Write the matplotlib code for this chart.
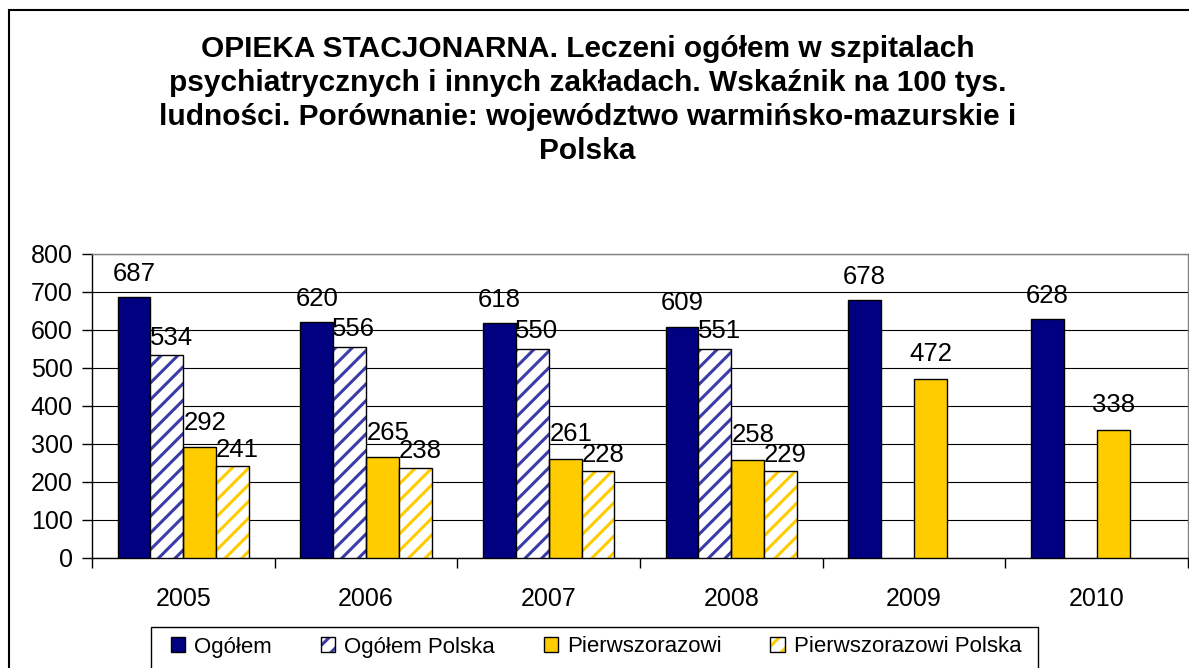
import numpy as np
import matplotlib
matplotlib.use('Agg')
import matplotlib.pyplot as plt
from matplotlib.patches import Patch, Rectangle
from matplotlib.legend_handler import HandlerTuple

plt.rcParams['font.family'] = ['Liberation Sans', 'DejaVu Sans']
plt.rcParams['hatch.linewidth'] = 2.2

years = ['2005', '2006', '2007', '2008', '2009', '2010']
ogolem = [687, 620, 618, 609, 678, 628]
ogolem_polska = [534, 556, 550, 551, np.nan, np.nan]
pierwszorazowi = [292, 265, 261, 258, 472, 338]
pierwszorazowi_polska = [241, 238, 228, 229, np.nan, np.nan]

series = [
    ('Ogółem', ogolem, '#000080', None),
    ('Ogółem Polska', ogolem_polska, '#3c3ca8', '//'),
    ('Pierwszorazowi', pierwszorazowi, '#ffcc00', None),
    ('Pierwszorazowi Polska', pierwszorazowi_polska, '#ffcc00', '//'),
]
# label offsets (points) per series, roughly as Excel placed them
label_dx = [0, 3, 4, 3.5]
label_dy = [8, 4, 9, 3]

title = ('OPIEKA STACJONARNA. Leczeni ogółem w szpitalach\n'
         'psychiatrycznych i innych zakładach. Wskaźnik na 100 tys.\n'
         'ludności. Porównanie: województwo warmińsko-mazurskie i\n'
         'Polska')

fig = plt.figure(figsize=(11.89, 6.68), dpi=100)
ax = fig.add_axes([0.0774, 0.1647, 0.9218, 0.4551])

x = np.arange(len(years))
w = 0.18
handles = []
for i, (name, vals, color, hatch) in enumerate(series):
    pos = x + (i - 1.5) * w
    vals = np.array(vals, dtype=float)
    if hatch:
        ax.bar(pos, vals, w, color='white', edgecolor=color, hatch=hatch,
               linewidth=0, zorder=3)
        ax.bar(pos, vals, w, fill=False, edgecolor='black', linewidth=1, zorder=4)
        h = (Patch(facecolor='white', edgecolor=color, hatch=hatch, linewidth=0),
             Patch(fill=False, edgecolor='black', linewidth=1))
    else:
        ax.bar(pos, vals, w, color=color, edgecolor='black', linewidth=1, zorder=3)
        h = Patch(facecolor=color, edgecolor='black', linewidth=1)
    handles.append(h)
    for p, v in zip(pos, vals):
        if not np.isnan(v):
            dx = label_dx[i] if not np.isnan(ogolem_polska[int(round(p))]) else 0
            ax.annotate(f'{int(v)}', (p, v), xytext=(dx, label_dy[i]),
                        textcoords='offset points', ha='center', va='bottom',
                        fontsize=18.5, zorder=5)

ax.set_xlim(-0.5, len(years) - 0.5)
ax.set_ylim(0, 800)
ax.set_yticks(range(0, 801, 100))
ax.yaxis.grid(True, color='black', linewidth=0.8, zorder=0)
ax.set_axisbelow(True)
ax.set_xticks(x)
ax.set_xticklabels(years)
ax.set_xticks(np.arange(-0.5, len(years), 1), minor=True)
ax.tick_params(axis='x', which='major', length=0, pad=21, labelsize=18)
ax.tick_params(axis='x', which='minor', length=7, width=1, direction='out')
ax.tick_params(axis='y', length=7, width=1, direction='out', labelsize=18, pad=7)
for s in ['left', 'bottom']:
    ax.spines[s].set_color('black')
    ax.spines[s].set_linewidth(1)
for s in ['top', 'right']:
    ax.spines[s].set_color('#808080')
    ax.spines[s].set_linewidth(1)

fig.text(0.494, 0.850, title, ha='center', va='center', fontsize=21.5,
         fontweight='bold', linespacing=1.28)

leg = fig.legend(handles, [s[0] for s in series], loc='center',
                 bbox_to_anchor=(596 / 1189, 1 - 647 / 668), ncol=4, fontsize=16,
                 frameon=False, handlelength=0.65, handleheight=0.65,
                 handletextpad=0.4, columnspacing=2.2, borderpad=0,
                 borderaxespad=0,
                 handler_map={tuple: HandlerTuple(ndivide=1)})

# legend box and outer chart frame
fig.patches.append(Rectangle((151 / 1189, -0.05), (1038 - 151) / 1189,
                             1 - 627 / 668 + 0.05, transform=fig.transFigure,
                             fill=False, edgecolor='black', linewidth=1))
fig.patches.append(Rectangle((9 / 1189, -0.05), 1.1, 1 - 10 / 668 + 0.05,
                             transform=fig.transFigure, fill=False,
                             edgecolor='black', linewidth=1.5))

fig.savefig('out.png', dpi=100)
